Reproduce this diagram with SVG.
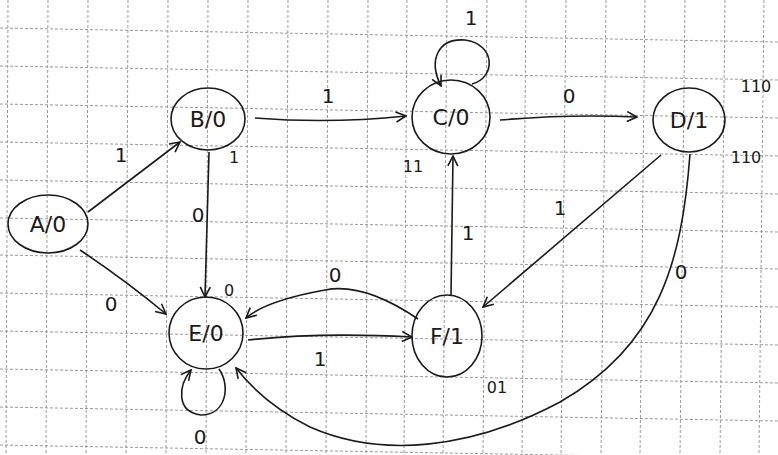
<svg xmlns="http://www.w3.org/2000/svg" width="778" height="455" viewBox="0 0 778 455">
<style>
.grid line{stroke:#9a9a9a;stroke-width:1;stroke-dasharray:3,2}
.node ellipse{fill:none;stroke:#1a1a1a;stroke-width:1.6}
.node text{font-family:"DejaVu Sans","Liberation Sans",sans-serif;font-size:22px;fill:#1a1a1a;text-anchor:middle}
.edge{fill:none;stroke:#1a1a1a;stroke-width:1.6;marker-end:url(#arr)}
.lbl{font-family:"DejaVu Sans","Liberation Sans",sans-serif;font-size:20px;fill:#1a1a1a;text-anchor:middle}
.code{font-family:"DejaVu Sans","Liberation Sans",sans-serif;font-size:16px;fill:#1a1a1a;text-anchor:middle}
</style>
<defs>
<marker id="arr" viewBox="0 0 12 12" refX="11" refY="6" markerWidth="12" markerHeight="12" markerUnits="userSpaceOnUse" orient="auto">
<path d="M1,1 L11,6 L1,11" fill="none" stroke="#1a1a1a" stroke-width="1.6"/>
</marker>
</defs>
<rect width="778" height="455" fill="#ffffff"/>
<g class="grid">
<line x1="8" y1="0" x2="6" y2="455"/><line x1="48" y1="0" x2="46" y2="455"/><line x1="88" y1="0" x2="86" y2="455"/><line x1="128" y1="0" x2="126" y2="455"/><line x1="168" y1="0" x2="166" y2="455"/><line x1="208" y1="0" x2="206" y2="455"/><line x1="248" y1="0" x2="246" y2="455"/><line x1="288" y1="0" x2="286" y2="455"/><line x1="328" y1="0" x2="326" y2="455"/><line x1="368" y1="0" x2="366" y2="455"/><line x1="407" y1="0" x2="404" y2="455"/><line x1="447" y1="0" x2="443" y2="455"/><line x1="487" y1="0" x2="483" y2="455"/><line x1="526" y1="0" x2="522" y2="455"/><line x1="566" y1="0" x2="561" y2="455"/><line x1="606" y1="0" x2="601" y2="455"/><line x1="645" y1="0" x2="640" y2="455"/><line x1="685" y1="0" x2="680" y2="455"/><line x1="725" y1="0" x2="720" y2="455"/><line x1="764" y1="0" x2="759" y2="455"/>
<line x1="0" y1="28" x2="778" y2="42"/><line x1="0" y1="66" x2="778" y2="80"/><line x1="0" y1="104" x2="778" y2="118"/><line x1="0" y1="142" x2="778" y2="156"/><line x1="0" y1="180" x2="778" y2="194"/><line x1="0" y1="218" x2="778" y2="232"/><line x1="0" y1="255" x2="778" y2="269"/><line x1="0" y1="293" x2="778" y2="307"/><line x1="0" y1="331" x2="778" y2="345"/><line x1="0" y1="369" x2="778" y2="383"/><line x1="0" y1="407" x2="778" y2="421"/><line x1="0" y1="445" x2="778" y2="459"/>
</g>
<g id="edges">
<path class="edge" d="M88,212 L180,142"/>
<path class="edge" d="M80,250 Q125,280 166,314"/>
<path class="edge" d="M255,118 Q330,124 406,116"/>
<path class="edge" d="M209,152 L205,297"/>
<path class="edge" d="M500,120 Q570,114 637,117"/>
<path class="edge" d="M472,84 C496,78 496,44 465,40 C438,38 428,60 441,86"/>
<path class="edge" d="M661,155 L483,307"/>
<path class="edge" d="M690,154 C682,260 660,345 560,402 C470,450 380,458 310,427 C272,408 250,386 236,368"/>
<path class="edge" d="M248,340 Q320,332 412,337"/>
<path class="edge" d="M418,319 C390,300 355,284 325,290 C292,296 262,304 246,318"/>
<path class="edge" d="M451,296 L453,156"/>
<path class="edge" d="M219,369 C231,386 226,415 201,415 C176,412 178,386 191,370"/>
</g>
<g id="labels">
<text class="lbl" x="121" y="162">1</text>
<text class="lbl" x="111" y="311">0</text>
<text class="lbl" x="328" y="103">1</text>
<text class="lbl" x="198" y="222">0</text>
<text class="lbl" x="569" y="103">0</text>
<text class="lbl" x="471" y="25">1</text>
<text class="lbl" x="560" y="215">1</text>
<text class="lbl" x="681" y="279">0</text>
<text class="lbl" x="320" y="366">1</text>
<text class="lbl" x="335" y="282">0</text>
<text class="lbl" x="468" y="240">1</text>
<text class="lbl" x="200" y="444">0</text>
<text class="code" x="234" y="163">1</text>
<text class="code" x="229" y="296">0</text>
<text class="code" x="413" y="172">11</text>
<text class="code" x="756" y="92">110</text>
<text class="code" x="746" y="163">110</text>
<text class="code" x="497" y="393">01</text>
</g>
<g id="A" class="node"><ellipse cx="48" cy="224" rx="40" ry="29"/><text x="48" y="232">A/0</text></g>
<g id="B" class="node"><ellipse cx="208" cy="119" rx="37" ry="31"/><text x="208" y="127">B/0</text></g>
<g id="C" class="node"><ellipse cx="451" cy="117" rx="39" ry="37"/><text x="451" y="125">C/0</text></g>
<g id="D" class="node"><ellipse cx="689" cy="120" rx="36" ry="32"/><text x="689" y="128">D/1</text></g>
<g id="E" class="node"><ellipse cx="206" cy="333" rx="37" ry="36"/><text x="206" y="341">E/0</text></g>
<g id="F" class="node"><ellipse cx="447" cy="336" rx="35" ry="41"/><text x="447" y="344">F/1</text></g>
</svg>
